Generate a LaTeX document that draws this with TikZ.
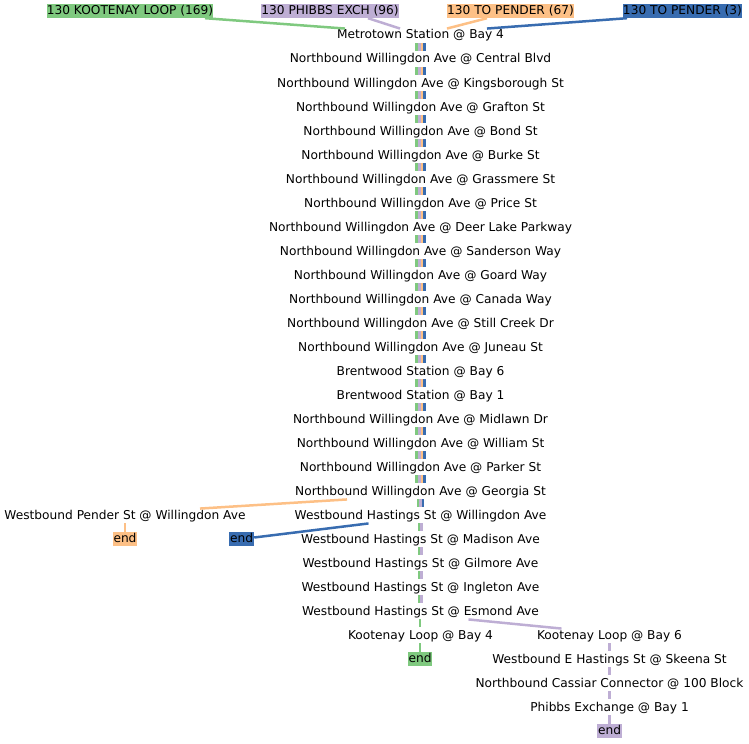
\documentclass[tikz,border=0pt]{standalone}
\usepackage{fontspec}
\setmainfont{DejaVu Sans}
\definecolor{cgreen}{HTML}{7FC97F}
\definecolor{cpurple}{HTML}{BEAED4}
\definecolor{corange}{HTML}{FDC086}
\definecolor{cblue}{HTML}{386CB0}
\begin{document}
\begin{tikzpicture}[x=1bp,y=-1bp,
  every node/.style={font=\fontsize{12.2bp}{14bp}\selectfont},
  stop/.style={inner xsep=1bp, inner ysep=1.75bp, text height=10.5bp, text depth=2.5bp},
  hdr/.style={inner xsep=0bp, inner ysep=1bp, text height=9.5bp, text depth=2.5bp},
  endbox/.style={inner xsep=1bp, inner ysep=1bp, text height=9.5bp, text depth=2.5bp},
  ln/.style={line width=2.5bp},
  gl/.style={ln, draw=cgreen},
  pl/.style={ln, draw=cpurple},
  ol/.style={ln, draw=corange},
  bl/.style={ln, draw=cblue}]
\useasboundingbox (0,0) rectangle (749,744);
% headers
\node[hdr, fill=cgreen] (h1) at (130,11) {130 KOOTENAY LOOP (169)};
\node[hdr, fill=cpurple] (h2) at (330,11) {130 PHIBBS EXCH (96)};
\node[hdr, fill=corange] (h3) at (510.5,11) {130 TO PENDER (67)};
\node[hdr, fill=cblue] (h4) at (682.5,11) {130 TO PENDER (3)};
% main column
\node[stop] (s1) at (420.5,35) {Metrotown Station @ Bay 4};
\node[stop] (s2) at (420.5,59) {Northbound Willingdon Ave @ Central Blvd};
\node[stop] (s3) at (420.5,83) {Northbound Willingdon Ave @ Kingsborough St};
\node[stop] (s4) at (420.5,107) {Northbound Willingdon Ave @ Grafton St};
\node[stop] (s5) at (420.5,131) {Northbound Willingdon Ave @ Bond St};
\node[stop] (s6) at (420.5,155) {Northbound Willingdon Ave @ Burke St};
\node[stop] (s7) at (420.5,179) {Northbound Willingdon Ave @ Grassmere St};
\node[stop] (s8) at (420.5,203) {Northbound Willingdon Ave @ Price St};
\node[stop] (s9) at (420.5,227) {Northbound Willingdon Ave @ Deer Lake Parkway};
\node[stop] (s10) at (420.5,251) {Northbound Willingdon Ave @ Sanderson Way};
\node[stop] (s11) at (420.5,275) {Northbound Willingdon Ave @ Goard Way};
\node[stop] (s12) at (420.5,299) {Northbound Willingdon Ave @ Canada Way};
\node[stop] (s13) at (420.5,323) {Northbound Willingdon Ave @ Still Creek Dr};
\node[stop] (s14) at (420.5,347) {Northbound Willingdon Ave @ Juneau St};
\node[stop] (s15) at (420.5,371) {Brentwood Station @ Bay 6};
\node[stop] (s16) at (420.5,395) {Brentwood Station @ Bay 1};
\node[stop] (s17) at (420.5,419) {Northbound Willingdon Ave @ Midlawn Dr};
\node[stop] (s18) at (420.5,443) {Northbound Willingdon Ave @ William St};
\node[stop] (s19) at (420.5,467) {Northbound Willingdon Ave @ Parker St};
\node[stop] (s20) at (420.5,491) {Northbound Willingdon Ave @ Georgia St};
\node[stop] (pender) at (125,515) {Westbound Pender St @ Willingdon Ave};
\node[stop] (hw) at (420.5,515) {Westbound Hastings St @ Willingdon Ave};
\node[endbox, fill=corange] (eor) at (125,539) {end};
\node[endbox, fill=cblue] (ebl) at (241.5,539) {end};
\node[stop] (mad) at (420.5,539) {Westbound Hastings St @ Madison Ave};
\node[stop] (gil) at (420.5,563) {Westbound Hastings St @ Gilmore Ave};
\node[stop] (ing) at (420.5,587) {Westbound Hastings St @ Ingleton Ave};
\node[stop] (esm) at (420.5,611) {Westbound Hastings St @ Esmond Ave};
\node[stop] (k4) at (420.5,635) {Kootenay Loop @ Bay 4};
\node[stop] (k6) at (609.5,635) {Kootenay Loop @ Bay 6};
\node[endbox, fill=cgreen] (egr) at (420,659) {end};
\node[stop] (sk) at (609.5,659) {Westbound E Hastings St @ Skeena St};
\node[stop] (cas) at (609.5,683) {Northbound Cassiar Connector @ 100 Block};
\node[stop] (phi) at (609.5,707) {Phibbs Exchange @ Bay 1};
\node[endbox, fill=cpurple] (epu) at (609.5,731) {end};
% header edges
\draw[gl] ([xshift=75bp]h1.south) -- ([xshift=-75.5bp,yshift=-2bp]s1.north);
\draw[pl] ([xshift=38bp]h2.south) -- ([xshift=-20.5bp,yshift=-2bp]s1.north);
\draw[ol] ([xshift=-23.5bp]h3.south) -- ([xshift=26.5bp,yshift=-2bp]s1.north);
\draw[bl] ([xshift=-55.5bp]h4.south) -- ([xshift=66.5bp,yshift=-2bp]s1.north);
% trunk with four lines
\foreach \a/\b in {s1/s2,s2/s3,s3/s4,s4/s5,s5/s6,s6/s7,s7/s8,s8/s9,s9/s10,s10/s11,s11/s12,s12/s13,s13/s14,s14/s15,s15/s16,s16/s17,s17/s18,s18/s19,s19/s20}{
  \draw[gl] ([xshift=-3.8bp]\a.south) -- ([xshift=-3.8bp]\b.north);
  \draw[pl] ([xshift=-1.2bp]\a.south) -- ([xshift=-1.2bp]\b.north);
  \draw[ol] ([xshift=1.4bp]\a.south) -- ([xshift=1.4bp]\b.north);
  \draw[bl] ([xshift=4bp]\a.south) -- ([xshift=4bp]\b.north);
}
% Georgia -> Hastings (three lines)
\draw[gl] ([xshift=-2.3bp]s20.south) -- ([xshift=-2.3bp]hw.north);
\draw[pl] (s20.south) -- (hw.north);
\draw[bl] ([xshift=2.3bp]s20.south) -- ([xshift=2.3bp]hw.north);
% orange branch
\draw[ol] ([xshift=-73.5bp]s20.south) -- ([xshift=75bp,yshift=-2bp]pender.north);
\draw[ol] (pender.south) -- (eor.north);
% blue branch
\draw[bl] ([xshift=-52bp]hw.south) -- ([yshift=1.5bp]ebl.east);
% Hastings two lines
\foreach \a/\b in {hw/mad,mad/gil,gil/ing,ing/esm}{
  \draw[gl] ([xshift=-1.3bp]\a.south) -- ([xshift=-1.3bp]\b.north);
  \draw[pl] ([xshift=1bp]\a.south) -- ([xshift=1bp]\b.north);
}
% green end
\draw[gl] ([xshift=-0.5bp]esm.south) -- ([xshift=-0.5bp]k4.north);
\draw[gl] ([xshift=-0.5bp]k4.south) -- ([xshift=0bp]egr.north);
% purple branch
\draw[pl] ([xshift=48bp]esm.south) -- ([xshift=-48bp,yshift=-2bp]k6.north);
\draw[pl] (k6.south) -- (sk.north);
\draw[pl] (sk.south) -- (cas.north);
\draw[pl] (cas.south) -- (phi.north);
\draw[pl] (phi.south) -- (epu.north);
\end{tikzpicture}
\end{document}
